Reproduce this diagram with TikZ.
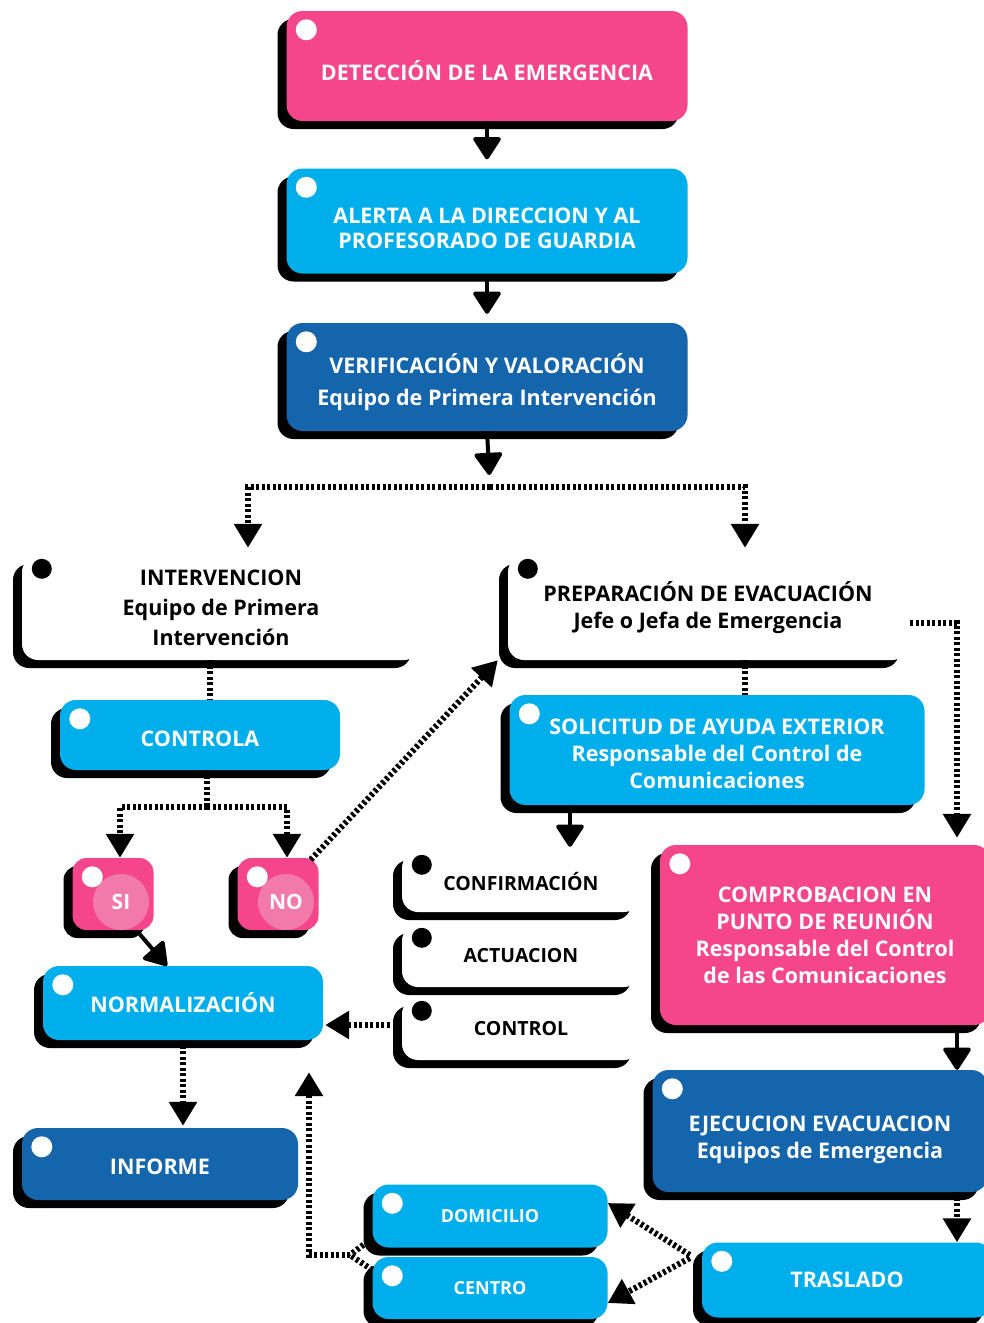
\documentclass[tikz,border=0pt]{standalone}
\usepackage{fontspec}
\setmainfont{Open Sans}
\usetikzlibrary{arrows.meta,shadows}

\definecolor{rosa}{HTML}{F5468C}
\definecolor{rosaclaro}{HTML}{F27AAA}
\definecolor{celeste}{HTML}{00AEEC}
\definecolor{azul}{HTML}{1565AD}

% puntal para bajar el texto dentro de la caja
\newcommand{\alto}[1]{\rule{0pt}{#1pt}}

\tikzset{
	caja/.style={rounded corners=16pt, inner sep=4pt, align=center, text=white,
		font=\bfseries\fontsize{21.5}{27}\selectfont,
		drop shadow={shadow xshift=-9pt, shadow yshift=-8pt, fill=black, opacity=1}},
	blanca/.style={caja, fill=white, text=black},
	circulo/.style={circle, fill=rosaclaro, minimum size=56pt, inner sep=0pt, text=white,
		font=\bfseries\fontsize{21}{27}\selectfont},
	punteada/.style={line width=6pt, dash pattern=on 3pt off 2.5pt, -{Triangle[width=27pt,length=24pt]}},
	linea/.style={line width=6pt, dash pattern=on 3pt off 2.5pt},
	solida/.style={line width=4pt, -{Triangle[width=30pt,length=24pt,round]}},
}

\begin{document}
\begin{tikzpicture}[x=1pt, y=-1pt]
	\useasboundingbox (0,0) rectangle (983,1323);

	% columna central
	\node[caja, fill=rosa, minimum width=401pt, minimum height=110pt] (det) at (487,66) {\alto{30}DETECCIÓN DE LA EMERGENCIA};
	\node[caja, fill=celeste, minimum width=401pt, minimum height=105pt,
		font=\bfseries\fontsize{21.5}{25}\selectfont] (alerta) at (487,221) {\alto{31}ALERTA A LA DIRECCION Y AL\\PROFESORADO DE GUARDIA};
	\node[caja, fill=azul, minimum width=401pt, minimum height=108pt,
		font=\bfseries\fontsize{21.5}{32}\selectfont] (verif) at (487,377) {\alto{30}VERIFICACIÓN Y VALORACIÓN\\Equipo de Primera Intervención};

	% rama izquierda
	\node[blanca, minimum width=398pt, minimum height=104pt,
		font=\bfseries\fontsize{21.5}{30}\selectfont] (interv) at (221,608) {INTERVENCION\\Equipo de Primera\\Intervención};
	\node[caja, fill=celeste, minimum width=280pt, minimum height=70pt] (controla) at (200,735) {\alto{23}CONTROLA};
	\node[caja, fill=rosa, rounded corners=14pt, minimum width=81pt, minimum height=72pt] (si) at (113,894) {};
	\node[caja, fill=rosa, rounded corners=14pt, minimum width=81pt, minimum height=72pt] (no) at (278,894) {};
	\node[circulo] (siT) at (121,902) {SI};
	\node[circulo] (noT) at (286,902) {NO};
	\node[caja, fill=celeste, minimum width=280pt, minimum height=74pt] (normal) at (183,1003) {NORMALIZACIÓN};
	\node[caja, fill=azul, minimum width=276pt, minimum height=72pt] (informe) at (160,1164) {\alto{21}INFORME};

	% rama derecha
	\node[blanca, minimum width=400pt, minimum height=104pt] (prep) at (708,608) {PREPARACIÓN DE EVACUACIÓN\\Jefe o Jefa de Emergencia};
	\node[caja, fill=celeste, minimum width=415pt, minimum height=110pt] (solicitud) at (717,750) {\alto{23}SOLICITUD DE AYUDA EXTERIOR\\Responsable del Control de\\Comunicaciones};
	\node[blanca, minimum width=238pt, minimum height=60pt, font=\bfseries\fontsize{19.5}{24}\selectfont] (confirm) at (521,882) {CONFIRMACIÓN};
	\node[blanca, minimum width=238pt, minimum height=62pt, font=\bfseries\fontsize{19.5}{24}\selectfont] (actua) at (521,956) {ACTUACION};
	\node[blanca, minimum width=238pt, minimum height=62pt, font=\bfseries\fontsize{19.5}{24}\selectfont] (control) at (521,1029) {CONTROL};
	\node[caja, fill=rosa, minimum width=330pt, minimum height=180pt] (comprob) at (825,935) {COMPROBACION EN\\PUNTO DE REUNIÓN\\Responsable del Control\\de las Comunicaciones};
	\node[caja, fill=azul, minimum width=335pt, minimum height=122pt] (ejec) at (820,1131) {\alto{33}EJECUCION EVACUACION\\Equipos de Emergencia};
	\node[caja, fill=celeste, minimum width=290pt, minimum height=75pt] (traslado) at (847,1280) {TRASLADO};
	\node[caja, fill=celeste, minimum width=235pt, minimum height=63pt, font=\bfseries\fontsize{18}{22}\selectfont] (domic) at (490,1216) {DOMICILIO};
	\node[caja, fill=celeste, minimum width=235pt, minimum height=62pt, font=\bfseries\fontsize{18}{22}\selectfont] (centro) at (490,1288) {CENTRO};

	% puntos
	\foreach \nodo in {det,alerta,verif,controla,si,no,normal,informe,solicitud,comprob,ejec,traslado,domic,centro} {
		\fill[white] ([shift={(20,19)}]\nodo.north west) circle (10.5pt);
	}
	\foreach \nodo in {interv,prep,confirm,actua,control} {
		\fill[black] ([shift={(20,13)}]\nodo.north west) circle (10pt);
	}

	% conectores
	\coordinate (rama) at (490,487);
	\coordinate (ramaB) at (207,807);
	\coordinate (junta) at (350,1255);

	\draw[solida, shorten >=9pt] (det.south) -- (alerta.north);
	\draw[solida, shorten >=9pt] (alerta.south) -- (verif.north);
	\draw[solida, shorten >=12pt] (verif.south) -- (rama);
	\draw[punteada] (rama) -| ([xshift=27pt, yshift=8pt]interv.north);
	\draw[punteada] (rama) -| ([xshift=37pt, yshift=8pt]prep.north);

	\draw[linea] ([xshift=-11pt]interv.south) -- ([xshift=10pt]controla.north);
	\draw[linea] ([xshift=7pt]controla.south) -- (ramaB);
	\draw[punteada] (ramaB) -| ([xshift=7pt]si.north);
	\draw[punteada] (ramaB) -| ([xshift=9pt]no.north);
	\draw[solida] ([xshift=-14pt, yshift=-4pt]si.south east) -- ([xshift=-16pt]normal.north);
	\draw[punteada] ([xshift=-8pt, yshift=-2pt]no.north east) -- ([xshift=-10pt]prep.south west);
	\draw[punteada] ([xshift=-12pt, yshift=4pt]control.west) -- ([xshift=2pt, yshift=-22pt]normal.east);
	\draw[punteada] (normal.south) -- ([xshift=23pt, yshift=2pt]informe.north);

	\draw[linea] ([xshift=37pt]prep.south) -- ([xshift=28pt]solicitud.north);
	\draw[punteada] ([xshift=2pt, yshift=-15pt]prep.east) -| ([xshift=132pt, yshift=7pt]comprob.north);
	\draw[solida] ([xshift=-147pt]solicitud.south) -- ([xshift=49pt, yshift=5pt]confirm.north);
	\draw[solida] ([xshift=132pt]comprob.south) -- ([xshift=137pt]ejec.north);
	\draw[punteada] ([xshift=137pt]ejec.south) -- ([xshift=110pt]traslado.north);
	\draw[punteada] ([xshift=-12pt, yshift=25pt]traslado.west) -- ([yshift=13pt]domic.east);
	\draw[punteada] ([xshift=-12pt, yshift=22pt]traslado.west) -- ([yshift=-15pt]centro.east);
	\draw[linea] ([yshift=-22pt]domic.west) -- (junta);
	\draw[linea] ([yshift=18pt]centro.west) -- (junta);
	\draw[punteada] (junta) -| ([xshift=126pt, yshift=-32pt]normal.south);
\end{tikzpicture}
\end{document}
